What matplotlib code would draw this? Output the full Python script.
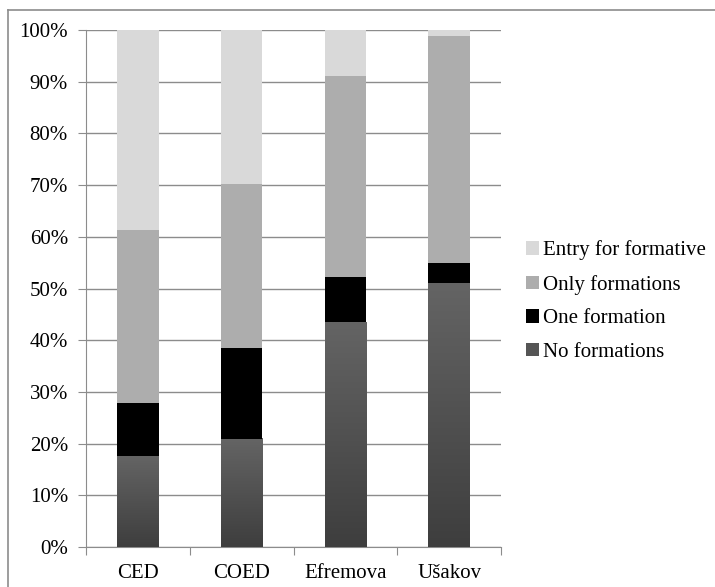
import numpy as np
import matplotlib
matplotlib.use("Agg")
import matplotlib.pyplot as plt
from matplotlib.colors import LinearSegmentedColormap
from matplotlib.patches import Patch
from matplotlib.lines import Line2D

# --- Datos (porcentaje de cada segmento) ---
categories = ["CED", "COED", "Efremova", "Ušakov"]
no_formations = [17.7, 20.9, 43.5, 51.1]
one_formation = [10.2, 17.5, 8.8, 3.8]
only_formations = [33.5, 31.9, 38.8, 44.0]
entry_formative = [38.6, 29.7, 8.9, 1.1]
legend_labels = ["Entry for formative", "Only formations", "One formation", "No formations"]

COL_ONE = "#000000"
COL_ONLY = "#adadad"
COL_ENTRY = "#d9d9d9"
grad = LinearSegmentedColormap.from_list("grad", ["#3e3e3e", "#646464"])

plt.rcParams["font.family"] = ["Liberation Serif", "DejaVu Serif"]
FS = 15

fig = plt.figure(figsize=(7.15, 5.87), dpi=100)
ax = fig.add_axes([0.1203, 0.0681, 0.5804, 0.8808])

x = np.arange(len(categories))
width = 0.4

# gradiente en la serie inferior
for i in range(len(categories)):
    g = np.linspace(0, 1, 100).reshape(-1, 1)
    ax.imshow(g, cmap=grad, origin="lower", aspect="auto",
              extent=(x[i] - width / 2, x[i] + width / 2, 0, no_formations[i]), zorder=3)

b1 = np.array(no_formations)
ax.bar(x, one_formation, width, bottom=b1, color=COL_ONE, zorder=3)
b2 = b1 + np.array(one_formation)
ax.bar(x, only_formations, width, bottom=b2, color=COL_ONLY, zorder=3)
b3 = b2 + np.array(only_formations)
ax.bar(x, entry_formative, width, bottom=b3, color=COL_ENTRY, zorder=3)

ax.set_xlim(-0.5, len(categories) - 0.5)
ax.set_ylim(0, 100)
ax.set_yticks(np.arange(0, 101, 10))
ax.set_yticklabels([f"{v}%" for v in range(0, 101, 10)], fontsize=FS)
ax.yaxis.grid(True, color="#8c8c8c", linewidth=1.0, zorder=0)
ax.set_axisbelow(True)

ax.set_xticks(np.arange(-0.5, len(categories), 1.0))
ax.set_xticklabels([])
ax.set_xticks(x, minor=True)
ax.set_xticklabels(categories, minor=True, fontsize=FS)
ax.tick_params(axis="x", which="minor", length=0, pad=12)
ax.tick_params(axis="x", which="major", length=6, color="#8c8c8c", direction="out")
ax.tick_params(axis="y", length=6, color="#8c8c8c", pad=7)

for s in ["top", "right"]:
    ax.spines[s].set_visible(False)
for s in ["left", "bottom"]:
    ax.spines[s].set_color("#8c8c8c")

handles = [Patch(facecolor=COL_ENTRY), Patch(facecolor=COL_ONLY),
           Patch(facecolor=COL_ONE), Patch(facecolor="#555555")]
fig.legend(handles, legend_labels, loc="center left", bbox_to_anchor=(0.736, 0.487),
           frameon=False, fontsize=FS, handlelength=0.6, handleheight=0.6,
           handletextpad=0.2, labelspacing=0.7, borderpad=0, borderaxespad=0)

# marco exterior
fig.add_artist(Line2D([8 / 715, 8 / 715], [0, 1 - 10 / 587], transform=fig.transFigure,
                      color="#8c8c8c", linewidth=1.2))
fig.add_artist(Line2D([8 / 715, 1], [1 - 10 / 587, 1 - 10 / 587], transform=fig.transFigure,
                      color="#8c8c8c", linewidth=1.2))

fig.savefig("out.png", dpi=100)
